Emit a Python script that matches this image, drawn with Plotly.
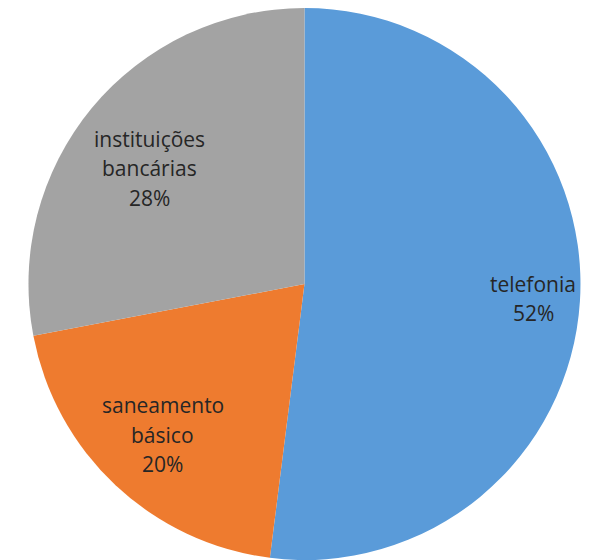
import math
import plotly.graph_objects as go

labels = ["telefonia", "saneamento básico", "instituições bancárias"]
label_lines = [["telefonia"], ["saneamento", "básico"], ["instituições", "bancárias"]]
values = [52, 20, 28]
colors = ["#5a9bd9", "#ee7b2f", "#a3a3a3"]

W, H = 597, 560
MT = 8
DOM_X = [0.02, 1.0]

fig = go.Figure(
    go.Pie(
        labels=labels,
        values=values,
        textinfo="none",
        sort=False,
        direction="clockwise",
        rotation=0,
        marker=dict(colors=colors, line=dict(width=0)),
        domain=dict(x=DOM_X, y=[0.0, 1.0]),
        showlegend=False,
        hoverinfo="label+percent",
    )
)

# label placement (pixel geometry of the pie)
cx = W * (DOM_X[0] + DOM_X[1]) / 2
ph = H - MT
R = min(W * (DOM_X[1] - DOM_X[0]), ph) / 2
cy = MT + ph / 2
radial_frac = [0.83, 0.75, 0.70]
angle_shift = [0.0, 0.0, -0.05]
line_gap = 29.5

total = sum(values)
start = 0.0
annotations = []
for i, v in enumerate(values):
    mid = (start + v / 2) / total * 2 * math.pi + angle_shift[i]
    start += v
    px = cx + radial_frac[i] * R * math.sin(mid)
    py = cy - radial_frac[i] * R * math.cos(mid)
    lines = label_lines[i] + [f"{round(100 * v / total)}%"]
    n = len(lines)
    for j, t in enumerate(lines):
        ly = py + (j - (n - 1) / 2) * line_gap
        annotations.append(
            dict(
                x=px / W,
                y=1 - (ly - MT) / ph,
                xref="paper",
                yref="paper",
                text=t,
                showarrow=False,
                xanchor="center",
                yanchor="middle",
                font=dict(family="Open Sans, sans-serif", size=21, color="#262626"),
            )
        )

fig.update_layout(
    width=W,
    height=H,
    margin=dict(l=0, r=0, t=MT, b=0),
    paper_bgcolor="white",
    plot_bgcolor="white",
    annotations=annotations,
)

fig.write_html("out.html")
